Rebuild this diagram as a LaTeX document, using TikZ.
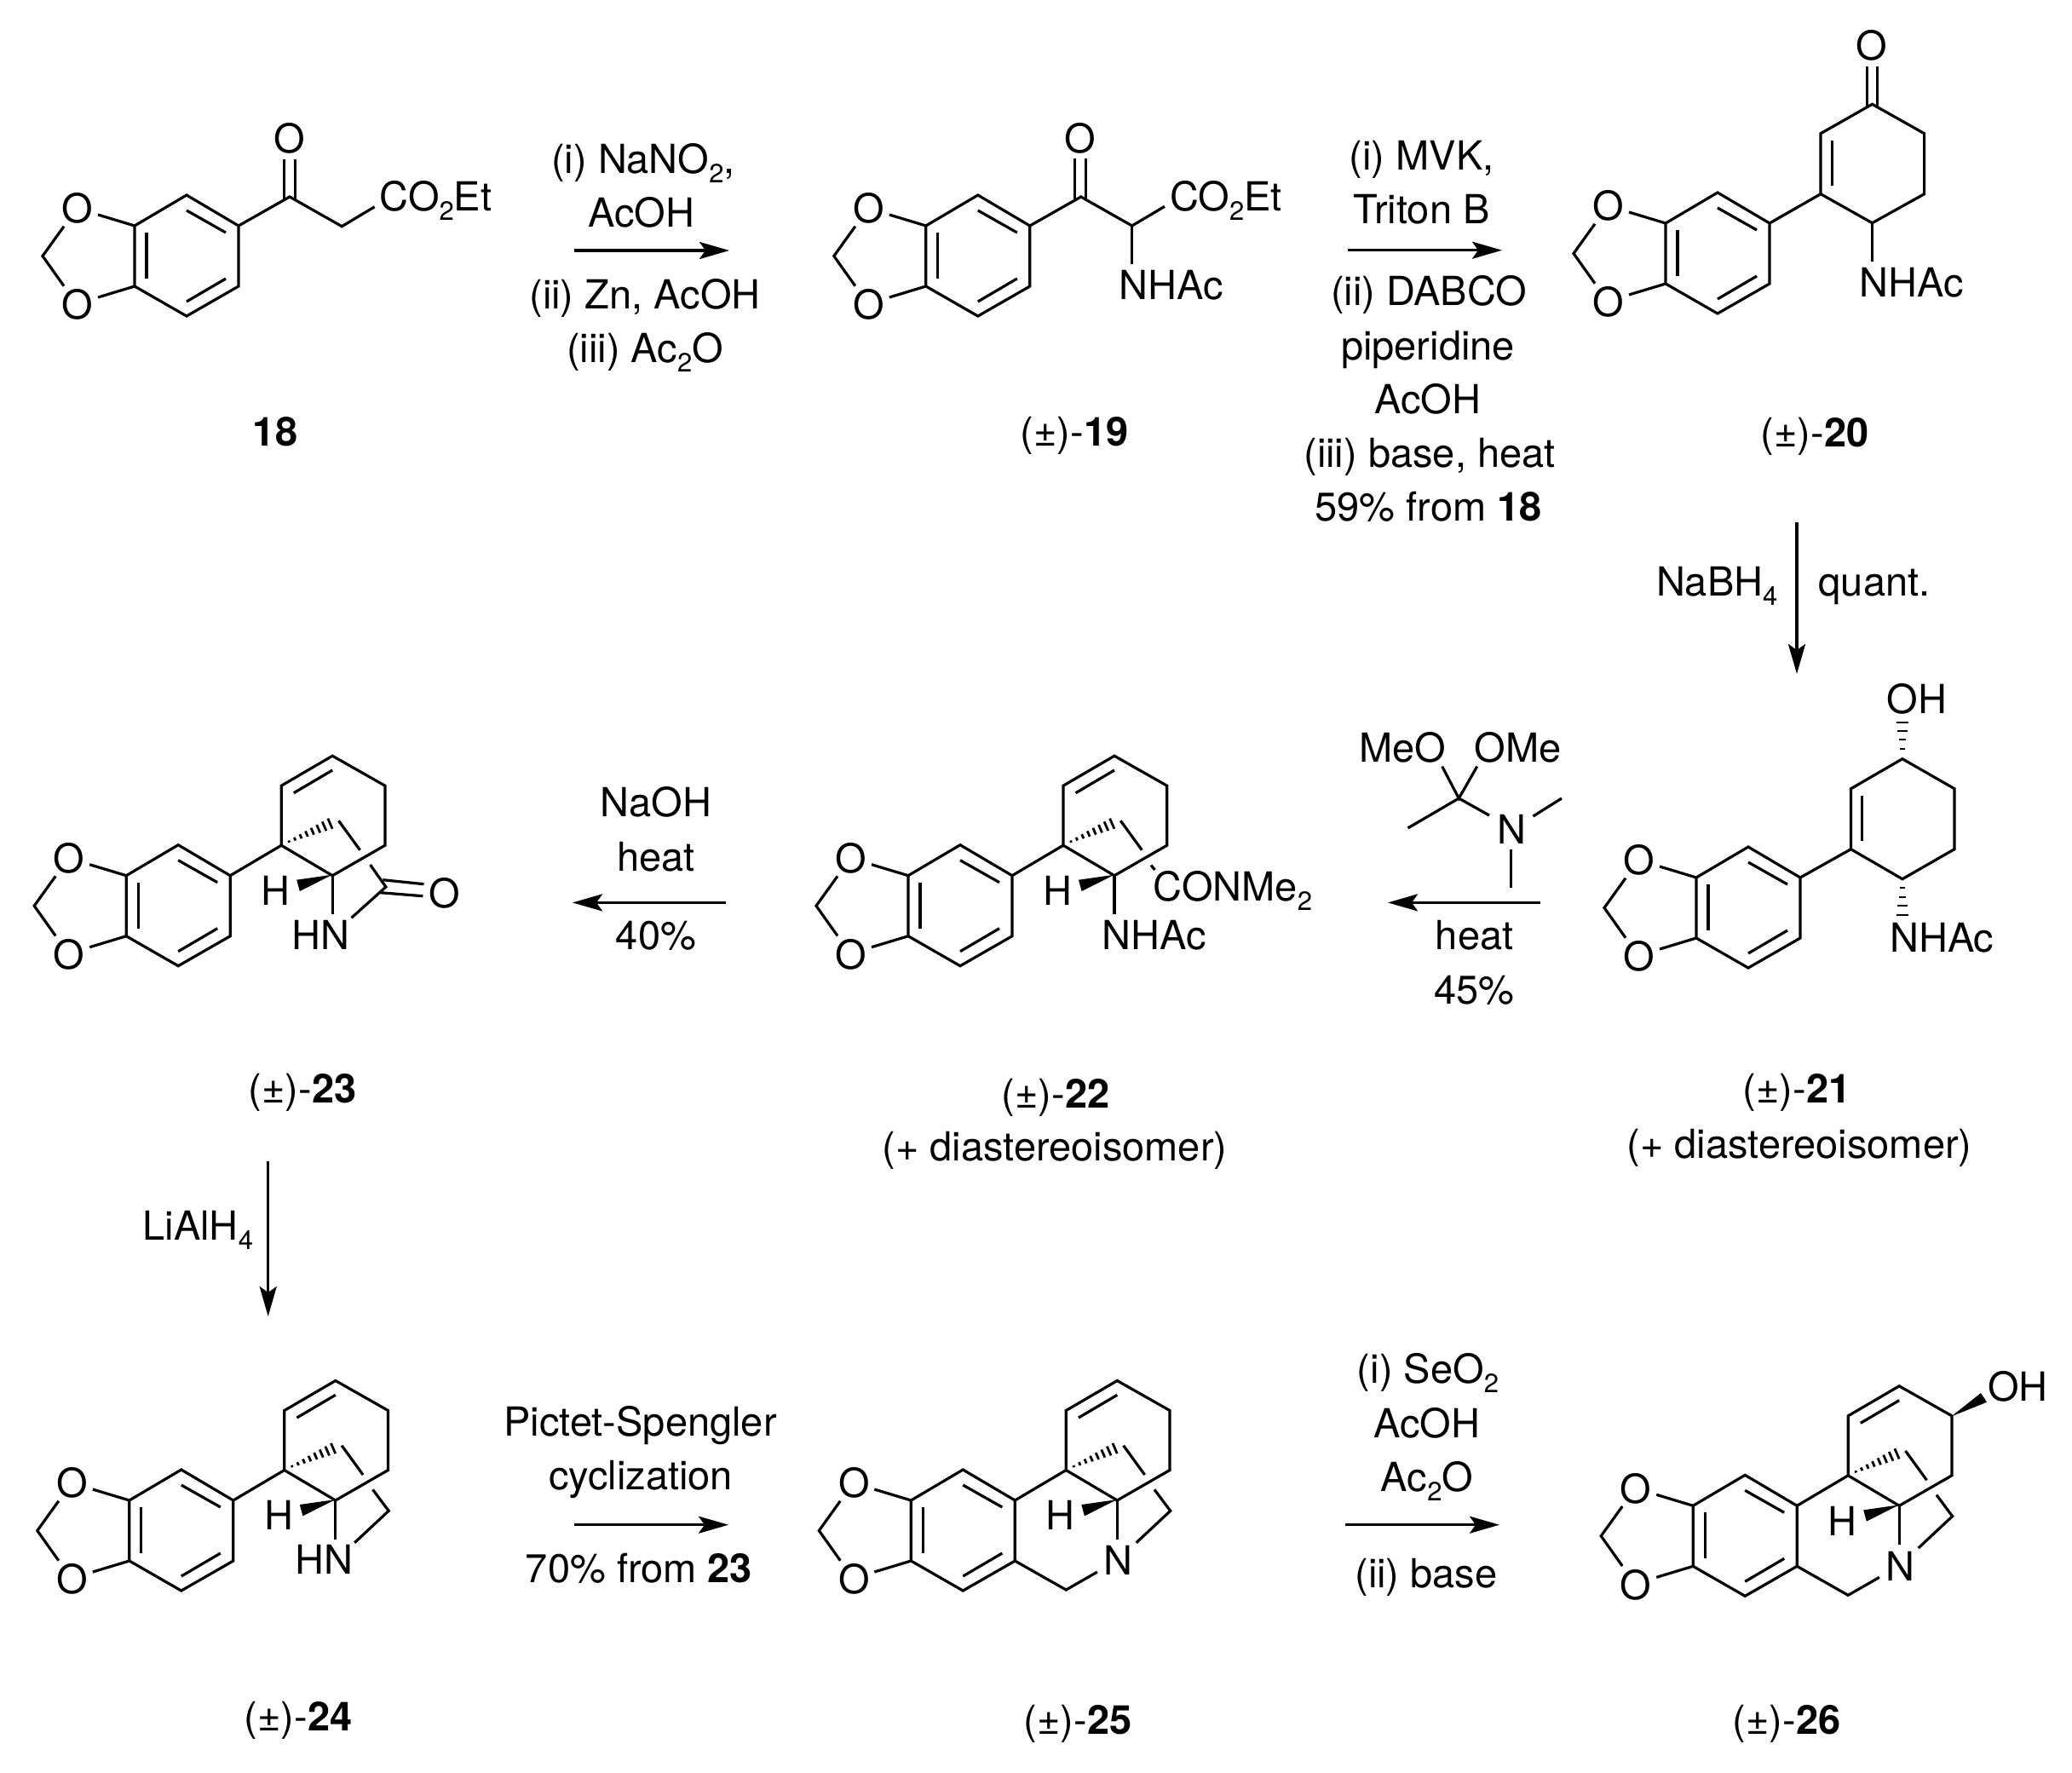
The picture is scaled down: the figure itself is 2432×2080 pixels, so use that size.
\documentclass[tikz,border=0pt]{standalone}
\usepackage{fontspec}
\setmainfont{TeX Gyre Heros}
\usetikzlibrary{arrows.meta}
\newcommand\subs[1]{\raisebox{-11pt}{\fontsize{31}{31}\selectfont #1}}
\newcommand\rac[1]{(±)-\textbf{#1}}
\tikzset{
  bond/.style={line width=3.2pt,line join=miter,line cap=butt},
  hashb/.style={line width=2.8pt},
  lab/.style={inner sep=0pt,outer sep=0pt,font=\fontsize{47}{56}\selectfont,anchor=base,yshift=-0.7pt},
  labw/.style={lab,anchor=base west,xshift=-1.5pt},
  atom/.style={lab,anchor=center},
  rxn/.style={line width=3.3pt,-{Stealth[length=35pt,width=20pt,inset=7pt]}},
}
% benzodioxole, origin at the ring's upper-left fusion carbon
\newcommand\arylbody{
  \node[atom] (-o1) at (-67,-21) {O};
  \node[atom] (-o2) at (-67,92) {O};
  \draw[bond] (0,0) -- (61,-36) -- (122,0) -- (122,71) -- (61,106) -- (0,71) -- cycle;
  \draw[bond] (-43,-13) -- (0,0);
  \draw[bond] (-43,84) -- (0,71);
  \draw[bond] (-83,0.7) -- (-108,35.5) -- (-83,70.7);
  \draw[bond] (14,8) -- (14,62);
  \draw[bond] (61,-18) -- (107,8);
  \draw[bond] (107,62) -- (61,89);
}
% aryl + cyclohexene + bridgehead stereo marks
\newcommand\corebody{
  \arylbody
  \draw[bond] (122,0) -- (182,-35.5);
  \draw[bond] (182,-35.5) -- (182,-105.5) -- (242,-140.5) -- (303.7,-105.5) -- (303.7,-35.5) -- (242,0) -- cycle;
  \draw[bond] (196.6,-97) -- (242,-123.7);
  \foreach \k in {0,...,7}{
    \pgfmathsetmacro\cx{191+48.3*\k/7}
    \pgfmathsetmacro\cy{-40-21*\k/7}
    \pgfmathsetmacro\hl{1.2+5.4*\k/7}
    \draw[hashb] ({\cx-0.4*\hl},{\cy-0.92*\hl}) -- ({\cx+0.4*\hl},{\cy+0.92*\hl});
  }
  \draw[bond] (249.3,-64.4) -- (274.3,-30);
  \fill (242,-1) -- (200,5) -- (203.6,18.3) -- cycle;
  \node[lab] (-h) at (175.5,34) {H};
  \draw[bond] (242,0) -- (242,45.6);
}
\newcommand\bridgebody{
  \draw[bond] (285.7,-12.7) -- (304.4,12.3) -- (264.4,49.7);
}
\tikzset{
  dioxole/.pic={\arylbody},
  acyclic/.pic={\corebody},
  lactam/.pic={\corebody
    \node[labw] (-hn) at (195.4,86) {HN};
    \node[atom] (-o) at (373.2,19.6) {O};
    \draw[bond] (286.4,-12.7) -- (304.7,13.3) -- (264.3,49.6);
    \draw[bond] (301.1,5) -- (349.3,10);
    \draw[bond] (298.2,20) -- (348.2,24);
  },
  amine/.pic={\corebody\bridgebody
    \node[labw] (-hn) at (196.2,86) {HN};
  },
  tertiary/.pic={\corebody\bridgebody
    \node[atom] (-n) at (243,70) {N};
    \draw[bond] (122,71) -- (182,105) -- (218.6,84);
  },
}
\begin{document}
\begin{tikzpicture}[x=1pt,y=-1pt]
\useasboundingbox[fill=white] (0,0) rectangle (2432,2080);

% ---- 18
\pic (m18) at (158,265) {dioxole};
\node[atom] (o18) at (340,161.7) {O};
\node[labw] (ester18) at (447,246.7) {CO\subs{2}Et};
\node[lab] (n18) at (323,523) {\textbf{18}};
\draw[bond] (280,265) -- (340,231) -- (401.3,265.7) -- (439.7,242.7);
\draw[bond] (333.7,186.7) -- (333.7,235);
\draw[bond] (346.7,186.7) -- (346.7,235);

% ---- arrow 1
\coordinate (a1s) at (673.5,294);
\coordinate (a1e) at (856,294);
\draw[rxn] (a1s) -- (a1e);
\node[lab] (t1a) at (755,202.7) {(i) NaNO\subs{2},};
\node[lab] (t1b) at (753,266) {AcOH};
\node[lab] (t1c) at (757,361.7) {(ii) Zn, AcOH};
\node[lab] (t1d) at (757,425) {(iii) Ac\subs{2}O};

% ---- 19
\pic (m19) at (1086.8,265) {dioxole};
\node[atom] (o19) at (1267.5,161.7) {O};
\node[labw] (ester19) at (1374.6,246.7) {CO\subs{2}Et};
\node[labw] (nh19) at (1315,351) {NHAc};
\node[lab] (n19) at (1261,523) {\rac{19}};
\draw[bond] (1208.8,265) -- (1268.7,231) -- (1328.7,265) -- (1367,242.3);
\draw[bond] (1328.7,265) -- (1328.7,310);
\draw[bond] (1261.4,186) -- (1261.4,235);
\draw[bond] (1274.8,186) -- (1274.8,235);

% ---- arrow 2
\coordinate (a2s) at (1581.8,293.7);
\coordinate (a2e) at (1763,293.7);
\draw[rxn] (a2s) -- (a2e);
\node[lab] (t2a) at (1668.6,199) {(i) MVK,};
\node[lab] (t2b) at (1668.6,262) {Triton B};
\node[lab] (t2c) at (1677,358) {(ii) DABCO};
\node[lab] (t2d) at (1676,421.4) {piperidine};
\node[lab] (t2e) at (1676,484.7) {AcOH};
\node[lab] (t2f) at (1678,548) {(iii) base, heat};
\node[lab] (t2g) at (1676.5,611) {59\% from \textbf{18}};

% ---- 20
\pic (m20) at (1955,262) {dioxole};
\node[atom] (o20) at (2196.8,52.7) {O};
\node[labw] (nh20) at (2184,348) {NHAc};
\node[lab] (n20) at (2130,523.5) {\rac{20}};
\draw[bond] (2077,262) -- (2137,227.7);
\draw[bond] (2137,227.7) -- (2137,156.7) -- (2197.5,122.3) -- (2258.6,156.7) -- (2258.6,227.7) -- (2197.5,261.7) -- cycle;
\draw[bond] (2150.7,165) -- (2150.7,218);
\draw[bond] (2197.5,261.7) -- (2197.5,306.7);
\draw[bond] (2191.2,78) -- (2191.2,126);
\draw[bond] (2203.8,78) -- (2203.8,126);

% ---- arrow 3
\coordinate (a3s) at (2109,613.3);
\coordinate (a3e) at (2109,791);
\draw[rxn] (a3s) -- (a3e);
\node[labw] (t3a) at (1945.6,699) {NaBH\subs{4}};
\node[labw] (t3b) at (2136,699) {quant.};

% ---- 21
\pic (m21) at (1991,1030) {dioxole};
\node[labw] (oh21) at (2216,837) {OH};
\node[labw] (nh21) at (2219.6,1117) {NHAc};
\node[lab] (n21) at (2109,1293.5) {\rac{21}};
\node[lab] (d21) at (2112,1358.5) {(+ diastereoisomer)};
\draw[bond] (2113,1030) -- (2172.5,996.7);
\draw[bond] (2172.5,996.7) -- (2172.5,925.7) -- (2232.9,890.7) -- (2294,925.7) -- (2294,996.7) -- (2232.9,1031.7) -- cycle;
\draw[bond] (2185.7,934) -- (2185.7,987);
\foreach \yy/\hl in {848/7,858/5.8,868/4.4,879/3}{
  \draw[hashb] (2232.9-\hl,\yy) -- (2232.9+\hl,\yy);
}
\foreach \yy/\hl in {1042/2.6,1053/4,1063/5.6,1074/7}{
  \draw[hashb] (2232.9-\hl,\yy) -- (2232.9+\hl,\yy);
}

% ---- reagent (dimethylacetamide dimethyl acetal)
\node[labw] (meo) at (1597,893.4) {MeO};
\node[labw] (ome) at (1732,893.4) {OMe};
\node[atom] (nr) at (1774,973) {N};
\coordinate (cr) at (1712.3,937);
\coordinate (mer) at (1652.5,971.9);
\coordinate (mer2) at (1833,937);
\coordinate (mer3) at (1773.8,1042);
\draw[bond] (1692.7,899.6) -- (cr) -- (1733.7,899.6);
\draw[bond] (mer) -- (cr) -- (1748,957);
\draw[bond] (1799.5,958) -- (mer2);
\draw[bond] (1773.8,997.4) -- (mer3);

% ---- arrow 4
\coordinate (a4s) at (1808,1059.4);
\coordinate (a4e) at (1629,1059.4);
\draw[rxn] (a4s) -- (a4e);
\node[lab] (t4a) at (1730.7,1113.8) {heat};
\node[lab] (t4b) at (1730.7,1177.5) {45\%};

% ---- 22
\pic (m22) at (1066,1027.7) {acyclic};
\node[labw] (nh22) at (1295,1114) {NHAc};
\node[labw] (am22) at (1355,1057) {CONMe\subs{2}};
\node[lab] (n22) at (1239,1299.7) {\rac{22}};
\node[lab] (d22) at (1238,1361.7) {(+ diastereoisomer)};
\draw[bond] (1351,1015.5) -- (1355.5,1021);

% ---- arrow 5
\coordinate (a5s) at (851.6,1059.4);
\coordinate (a5e) at (672,1059.4);
\draw[rxn] (a5s) -- (a5e);
\node[lab] (t5a) at (770,958) {NaOH};
\node[lab] (t5b) at (770,1021.5) {heat};
\node[lab] (t5c) at (770,1113.8) {40\%};

% ---- 23
\pic (m23) at (148.2,1027.7) {lactam};
\node[lab] (n23) at (355,1293.5) {\rac{23}};

% ---- arrow 6
\coordinate (a6s) at (314.7,1362.7);
\coordinate (a6e) at (314.7,1545);
\draw[rxn] (a6s) -- (a6e);
\node[labw] (t6a) at (169,1454.7) {LiAlH\subs{4}};

% ---- 24
\pic (m24) at (151.8,1761) {amine};
\node[lab] (n24) at (350,2031) {\rac{24}};

% ---- arrow 7
\coordinate (a7s) at (674,1789.7);
\coordinate (a7e) at (855,1789.7);
\draw[rxn] (a7s) -- (a7e);
\node[lab] (t7a) at (751.6,1684.5) {Pictet-Spengler};
\node[lab] (t7b) at (752,1748) {cyclization};
\node[lab] (t7c) at (750,1856.7) {70\% from \textbf{23}};

% ---- 25
\pic (m25) at (1069.3,1761) {tertiary};
\node[lab] (n25) at (1265,2034.7) {\rac{25}};

% ---- arrow 8
\coordinate (a8s) at (1578.7,1789.7);
\coordinate (a8e) at (1760,1789.7);
\draw[rxn] (a8s) -- (a8e);
\node[lab] (t8a) at (1676,1623) {(i) SeO\subs{2}};
\node[lab] (t8b) at (1675,1686.9) {AcOH};
\node[lab] (t8c) at (1675,1749.6) {Ac\subs{2}O};
\node[lab] (t8d) at (1674,1863) {(ii) base};

% ---- 26
\pic (m26) at (1987.2,1767.3) {tertiary};
\node[labw] (oh26) at (2334.5,1643.3) {OH};
\node[lab] (n26) at (2097,2035) {\rac{26}};
\fill (2290.3,1662.5) -- (2325,1635) -- (2332,1645.7) -- cycle;
\end{tikzpicture}
\end{document}
